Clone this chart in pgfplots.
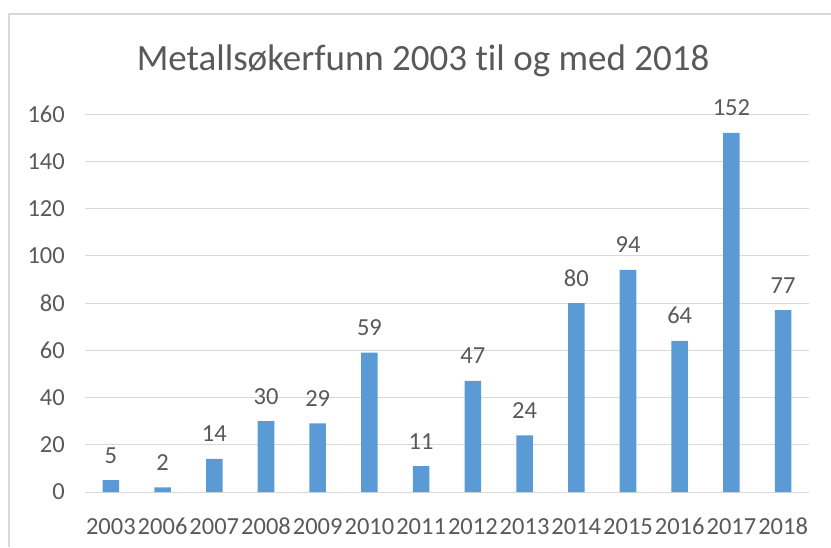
\documentclass[border=0pt]{standalone}
\usepackage{fontspec}
\setmainfont{Carlito}[Ligatures={NoCommon,NoRare,NoContextual}]
\usepackage{pgfplots}
\pgfplotsset{compat=1.18}
\definecolor{barblue}{HTML}{5B9BD5}
\definecolor{txtgray}{HTML}{595959}
\definecolor{gridgray}{HTML}{D9D9D9}
\begin{document}
\begin{tikzpicture}
\path[use as bounding box] (0,0) rectangle (831pt,547pt);
\draw[gridgray, line width=1.5pt] (9pt,0pt) -- (9pt,533pt) -- (831pt,533pt);
\begin{axis}[
  at={(85pt,55pt)}, anchor=south west,
  scale only axis, width=724pt, height=378pt,
  xmin=-0.5, xmax=13.5, ymin=0, ymax=160,
  ytick={0,20,...,160},
  xtick=data,
  xticklabels={2003,2006,2007,2008,2009,2010,2011,2012,2013,2014,2015,2016,2017,2018},
  ymajorgrids, grid style={gridgray, line width=1pt},
  axis line style={draw=none},
  tick style={draw=none},
  /pgf/number format/assume math mode=true,
  ticklabel style={font=\fontsize{24.5}{29}\selectfont, text=txtgray, inner sep=0pt},
  yticklabel style={anchor=east, xshift=-20pt},
  xticklabel style={anchor=base, yshift=-38pt},
  every axis title shift=0pt,
  title={Metallsøkerfunn 2003 t\kern0pt il og med 2018},
  title style={font=\fontsize{37}{44}\selectfont, text=txtgray, anchor=base, at={(axis description cs:0.467,1.1138)}, inner sep=0pt},
  ybar, bar width=0.32,
  nodes near coords,
  every node near coord/.append style={font=\fontsize{24.5}{29}\selectfont, text=txtgray, anchor=base, inner sep=0pt, yshift=17pt},
]
\addplot[fill=barblue, draw=none] coordinates {
(0,5) (1,2) (2,14) (3,30) (4,29) (5,59) (6,11) (7,47) (8,24) (9,80) (10,94) (11,64) (12,152) (13,77)
};
\end{axis}
\end{tikzpicture}
\end{document}
